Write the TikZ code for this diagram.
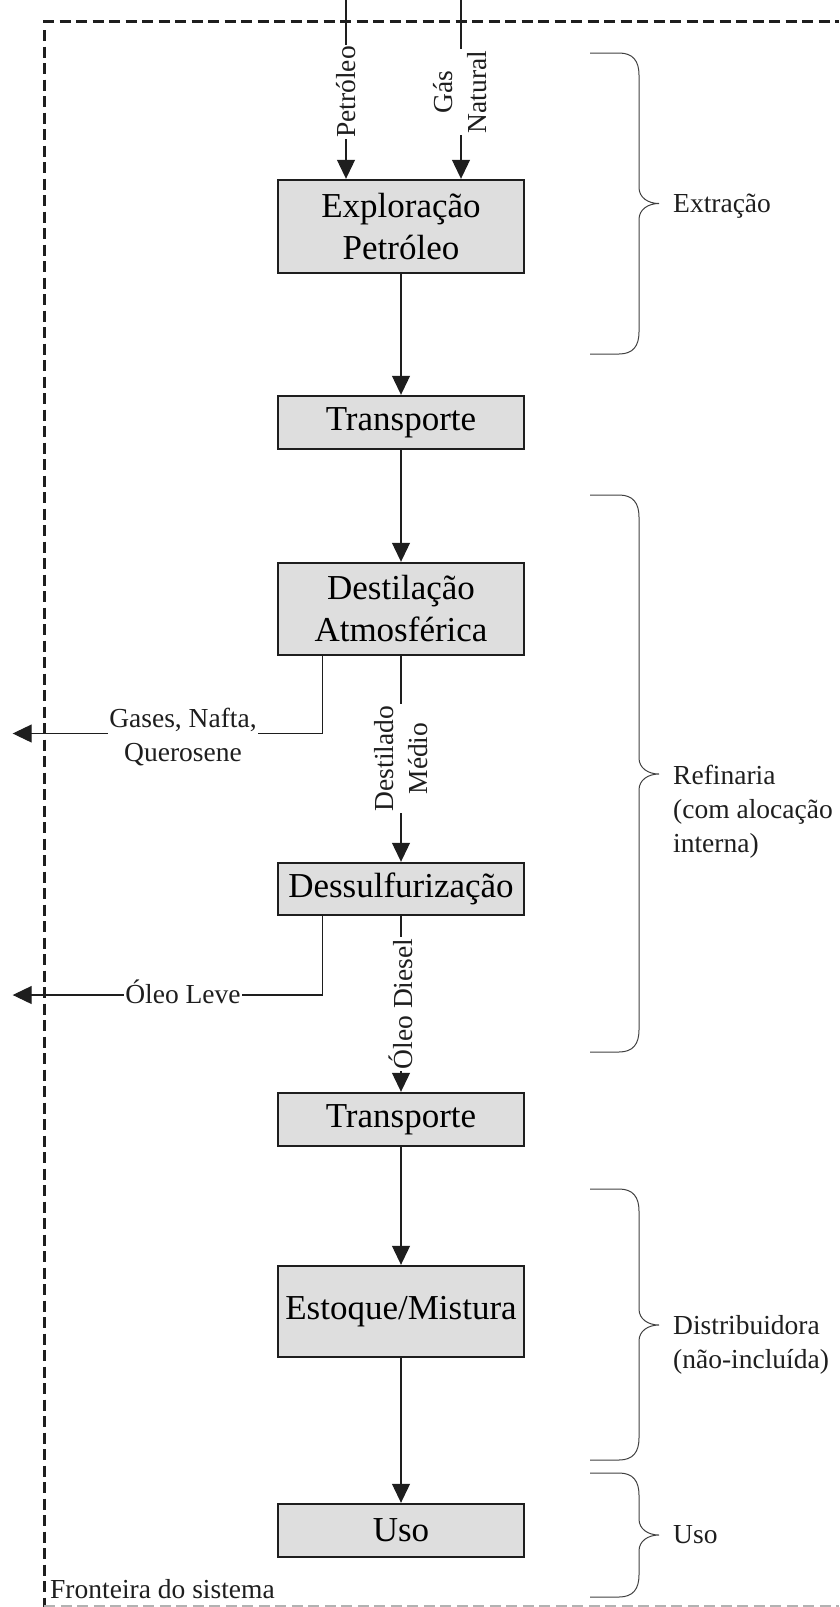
\documentclass[tikz,border=0pt]{standalone}
\usepackage{fontspec}
\setmainfont{Liberation Serif}
\usetikzlibrary{arrows.meta,calc}
\definecolor{boxfill}{RGB}{222,222,222}
\definecolor{ink}{RGB}{30,30,30}
% curly bracket on the right: #1 top, #2 tip, #3 bottom
\newcommand{\sidebrace}[3]{%
  \draw[bracket] (590,#1) -- (619,#1) .. controls (633,#1) and (639,#1+8) .. (639,#1+22)
    -- (639,#2-16) .. controls (639,#2-6) and (648,#2) .. (659,#2)
    .. controls (648,#2) and (639,#2+6) .. (639,#2+16)
    -- (639,#3-22) .. controls (639,#3-8) and (633,#3) .. (619,#3) -- (590,#3);}
\begin{document}
\begin{tikzpicture}[x=1pt,y=-1pt,
  procbox/.style={draw=ink, line width=2.4pt, fill=boxfill, minimum width=246pt,
    align=center, inner sep=0pt, font=\fontsize{35}{42}\selectfont},
  flow/.style={draw=ink, line width=1.1pt},
  arr/.style={flow, -{Triangle[length=19pt,width=18pt]}},
  flowlabel/.style={font=\fontsize{27.5}{34}\selectfont, text=ink, fill=white,
    inner sep=1.5pt, align=center},
  sidelabel/.style={font=\fontsize{27.5}{34}\selectfont, text=ink, anchor=north west,
    inner sep=0pt, align=left},
  boundary/.style={draw=ink, line width=2.2pt, dash pattern=on 11pt off 5.5pt},
  bracket/.style={draw=ink!85, line width=1pt},
]
\useasboundingbox (0,0) rectangle (839,1607);

% system boundary
\draw[boundary] (43,21.5) -- (839,21.5);
\draw[boundary] (44.4,30) -- (44.4,1607);
\draw[boundary, draw=black!30, line width=1.5pt] (44.4,1606) -- (839,1606);
\node[font=\fontsize{27.5}{34}\selectfont, text=ink, anchor=base west, inner sep=0pt]
  (frontier) at (50,1598) {Fronteira do sistema};

% process chain
\node[procbox, minimum height=93pt] (expl)   at (401,226.5)  {Exploração\\Petróleo};
\node[procbox, minimum height=53pt] (trans1) at (401,422.5)  {Transporte};
\node[procbox, minimum height=92pt] (dest)   at (401,609)    {Destilação\\Atmosférica};
\node[procbox, minimum height=52pt] (dess)   at (401,889)    {Dessulfurização};
\node[procbox, minimum height=53pt] (trans2) at (401,1119.5) {Transporte};
\node[procbox, minimum height=91pt] (stock)  at (401,1311.5) {Estoque/Mistura};
\node[procbox, minimum height=53pt] (use)    at (401,1530.5) {Uso};

% inputs
\coordinate (petIn) at (346,0);
\coordinate (gasIn) at (461,0);
\draw[arr] (petIn) -- (petIn |- expl.north);
\draw[arr] (gasIn) -- (gasIn |- expl.north);
\node[flowlabel, rotate=90] (petLabel) at (346,92) {Petróleo};
\node[flowlabel, rotate=90] (gasLabel) at (460,92) {Gás\\Natural};

% main flow
\draw[arr] (expl) -- (trans1);
\draw[arr] (trans1) -- (dest);
\draw[arr] (dest) -- (dess);
\draw[arr] (dess) -- (trans2);
\draw[arr] (trans2) -- (stock);
\draw[arr] (stock) -- (use);
\node[flowlabel, rotate=90] (midLabel) at (401,758.5) {Destilado\\Médio};
\node[flowlabel, rotate=90] (dieselLabel) at (401,1004) {Óleo Diesel};

% co-products leaving the system
\coordinate (gasOut) at (12.7,733.5);
\coordinate (lightOut) at (12.7,995);
\draw[arr] ([xshift=-78.3pt]dest.south) |- (gasOut);
\draw[arr] ([xshift=-78.3pt]dess.south) |- (lightOut);
\node[flowlabel] (gasesLabel) at (183,737.5) {Gases, Nafta,\\Querosene};
\node[flowlabel, anchor=base, inner sep=1pt] (leveLabel) at (183,1003) {Óleo Leve};

% stage brackets
\sidebrace{53}{203.5}{354}
\sidebrace{495}{774}{1052}
\sidebrace{1189}{1325}{1460}
\sidebrace{1473}{1535}{1597}
\node[sidelabel] (lblExt) at (673,194) {Extração};
\node[sidelabel] (lblRef) at (673,764.5) {Refinaria\\(com alocação\\interna)};
\node[sidelabel] (lblDist) at (673,1315.5) {Distribuidora\\(não-incluída)};
\node[sidelabel] (lblUse) at (673,1525.5) {Uso};
\end{tikzpicture}
\end{document}
